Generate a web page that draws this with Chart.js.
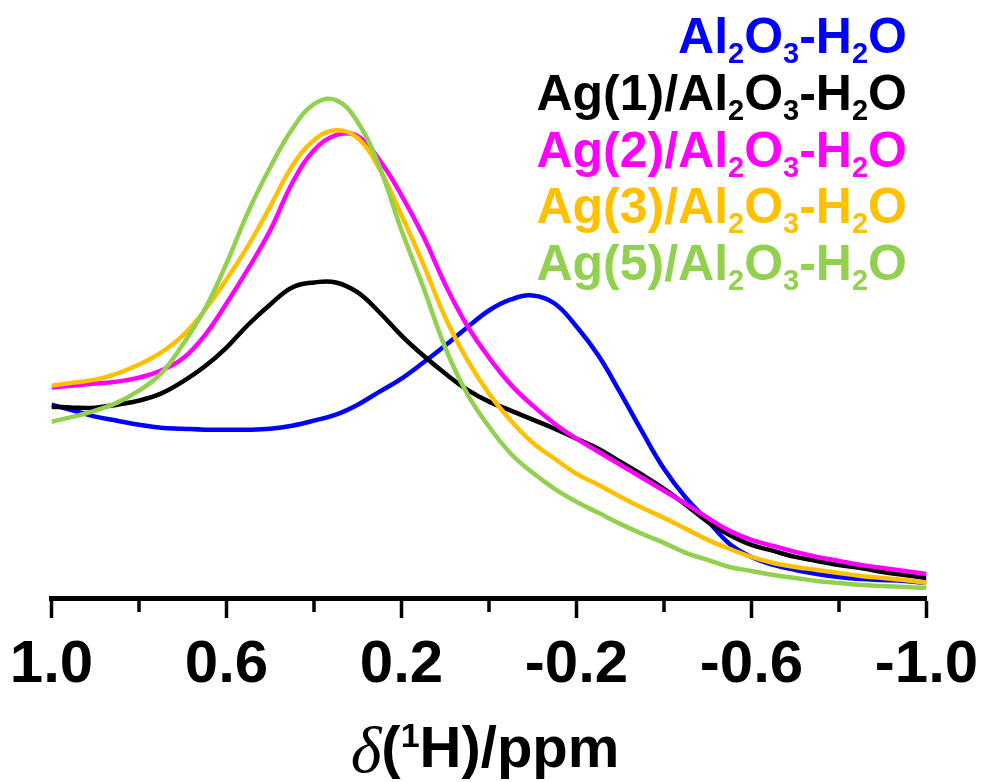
<!DOCTYPE html>
<html>
<head>
<meta charset="utf-8">
<script src="https://cdn.jsdelivr.net/npm/chart.js@4.4.1/dist/chart.umd.min.js"></script>
<style>
    html, body { margin: 0; padding: 0; background: #ffffff; }
    #wrap { width: 982px; height: 782px; }
</style>
</head>
<body>
<div id="wrap"><canvas id="nmrChart" width="982" height="782"></canvas></div>
<script>
// chemical shift grid (ppm)
const ppm = [1.00, 0.95, 0.90, 0.85, 0.80, 0.75, 0.70, 0.65, 0.60, 0.55,
             0.50, 0.45, 0.40, 0.35, 0.30, 0.25, 0.20, 0.15, 0.10, 0.05,
             0.00, -0.05, -0.10, -0.15, -0.20, -0.25, -0.30, -0.35, -0.40, -0.45,
             -0.50, -0.55, -0.60, -0.65, -0.70, -0.75, -0.80, -0.85, -0.90, -0.95, -1.00];

// intensities (a.u.)
const alH2O = [193, 187, 181, 177, 173, 170, 169, 168, 168, 168,
               169, 172, 177, 183, 193, 206, 219, 235, 252, 270,
               287, 298, 302, 294, 271, 242, 205, 166, 129, 100,
               77, 54, 41, 33, 28, 24, 21, 19, 18, 17, 15];
const ag1H2O = [191, 190, 190, 193, 197, 204, 216, 231, 250, 273,
                293, 310, 315, 315, 305, 285, 262, 242, 224, 208,
                196, 187, 178, 169, 159, 149, 136, 123, 109, 93,
                76, 63, 53, 47, 41, 37, 33, 30, 26, 23, 20];
const ag2H2O = [210, 212, 214, 216, 220, 227, 239, 262, 294, 329,
                367, 414, 447, 462, 461, 437, 402, 361, 313, 272,
                240, 213, 192, 174, 159, 146, 133, 120, 107, 94,
                80, 67, 58, 52, 46, 41, 37, 33, 30, 27, 24];
const ag3H2O = [212, 215, 218, 224, 233, 245, 262, 287, 318, 352,
                391, 431, 457, 467, 459, 428, 382, 333, 280, 238,
                204, 177, 155, 139, 124, 113, 101, 90, 80, 69,
                58, 49, 41, 35, 31, 28, 25, 22, 20, 18, 15];
const ag5H2O = [176, 181, 187, 195, 207, 224, 253, 288, 334, 386,
                430, 468, 493, 497, 475, 430, 367, 310, 250, 204,
                171, 144, 125, 109, 96, 85, 74, 64, 55, 45,
                38, 31, 27, 23, 20, 17, 15, 13, 12, 11, 10];

const seriesLabels = ['Al2O3-H2O', 'Ag(1)/Al2O3-H2O', 'Ag(2)/Al2O3-H2O', 'Ag(3)/Al2O3-H2O', 'Ag(5)/Al2O3-H2O'];
const seriesData = [alH2O, ag1H2O, ag2H2O, ag3H2O, ag5H2O];
const seriesColors = ['#0000FF', '#000000', '#FF00FF', '#FFC000', '#92D050'];

const majorTicks = [1.0, 0.6, 0.2, -0.2, -0.6, -1.0];
const minorTicks = [0.8, 0.4, 0.0, -0.4, -0.8];

const FONT = '"Liberation Sans", Arial, Helvetica, sans-serif';

function isMajor(v) {
    return majorTicks.some(t => Math.abs(t - v) < 1e-6);
}

// digit right after a letter is drawn as a subscript
function drawChemLabel(ctx, text, rightX, baseline, color) {
    const runs = [];
    for (let i = 0; i < text.length; i++) {
        const ch = text[i];
        const sub = /[0-9]/.test(ch) && i > 0 && /[A-Za-z]/.test(text[i - 1]);
        const last = runs[runs.length - 1];
        if (last && last.sub === sub) last.text += ch;
        else runs.push({ text: ch, sub: sub });
    }
    const mainFont = 'bold 50px ' + FONT;
    const subFont = 'bold 29px ' + FONT;
    let total = 0;
    runs.forEach(r => {
        ctx.font = r.sub ? subFont : mainFont;
        r.w = ctx.measureText(r.text).width;
        total += r.w;
    });
    let x = rightX - total;
    ctx.fillStyle = color;
    ctx.textAlign = 'left';
    ctx.textBaseline = 'alphabetic';
    runs.forEach(r => {
        ctx.font = r.sub ? subFont : mainFont;
        ctx.fillText(r.text, x, r.sub ? baseline + 10 : baseline);
        x += r.w;
    });
}

const extrasPlugin = {
    id: 'extras',
    afterDraw(chart) {
        const ctx = chart.ctx;
        const xScale = chart.scales.x;
        const area = chart.chartArea;
        ctx.save();

        // minor ticks
        ctx.strokeStyle = '#000';
        ctx.lineWidth = 3.5;
        minorTicks.forEach(v => {
            const px = xScale.getPixelForValue(v);
            ctx.beginPath();
            ctx.moveTo(px, area.bottom);
            ctx.lineTo(px, area.bottom + 14);
            ctx.stroke();
        });

        // axis title: delta(1H)/ppm
        const parts = [
            { text: '\u03B4', font: 'italic 66px "Liberation Serif", "Times New Roman", serif', dy: 5 },
            { text: '(', font: 'bold 58px ' + FONT, dy: 0 },
            { text: '1', font: 'bold 34px ' + FONT, dy: -20 },
            { text: 'H)/ppm', font: 'bold 58px ' + FONT, dy: 0 }
        ];
        let total = 0;
        parts.forEach(p => { ctx.font = p.font; p.w = ctx.measureText(p.text).width; total += p.w; });
        let x = (area.left + area.right) / 2 - 4 - total / 2;
        const base = 767;
        ctx.fillStyle = '#000';
        ctx.textAlign = 'left';
        ctx.textBaseline = 'alphabetic';
        parts.forEach(p => {
            ctx.font = p.font;
            ctx.fillText(p.text, x, base + p.dy);
            x += p.w;
        });

        // series names, top right
        seriesLabels.forEach((label, i) => {
            drawChemLabel(ctx, label, 907, 53 + i * 56.75, seriesColors[i]);
        });
        ctx.restore();
    }
};

const datasets = seriesData.map((vals, i) => ({
    label: seriesLabels[i],
    data: ppm.map((x, j) => ({ x: x, y: vals[j] })),
    borderColor: seriesColors[i],
    backgroundColor: seriesColors[i],
    borderWidth: 4.5,
    pointRadius: 0,
    fill: false,
    tension: 0.4,
    order: seriesData.length - 1 - i
}));

new Chart(document.getElementById('nmrChart').getContext('2d'), {
    type: 'line',
    data: { datasets: datasets },
    options: {
        responsive: false,
        animation: false,
        devicePixelRatio: 1,
        layout: { padding: { left: 51.5, right: 55.5, top: 40, bottom: 70 } },
        plugins: {
            legend: { display: false },
            tooltip: { enabled: false }
        },
        scales: {
            x: {
                type: 'linear',
                min: -1,
                max: 1,
                reverse: true,
                position: 'bottom',
                // keep the edge labels from pushing the plot area inwards
                afterFit: scale => { scale.paddingLeft = 0; scale.paddingRight = 0; },
                border: { display: true, color: '#000', width: 5 },
                grid: {
                    drawOnChartArea: false,
                    drawTicks: true,
                    tickLength: 20,
                    tickWidth: 3.5,
                    tickColor: ctx => (ctx.tick && isMajor(ctx.tick.value)) ? '#000' : 'rgba(0,0,0,0)'
                },
                ticks: {
                    stepSize: 0.2,
                    autoSkip: false,
                    maxRotation: 0,
                    padding: 11,
                    color: '#000',
                    font: { family: FONT, size: 60, weight: 'bold' },
                    callback: v => isMajor(v) ? Number(v).toFixed(1) : ''
                }
            },
            y: {
                display: false,
                min: 0,
                max: 557
            }
        }
    },
    plugins: [extrasPlugin]
});
</script>
</body>
</html>
